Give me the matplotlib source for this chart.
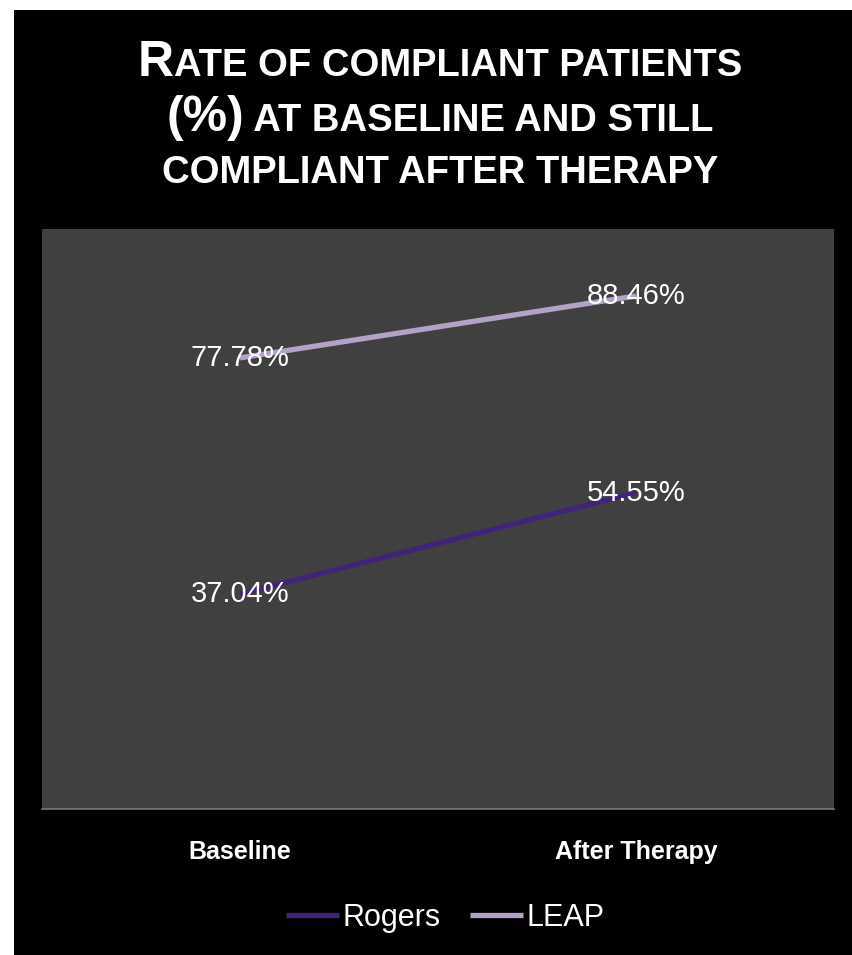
"""Compliance rate line chart, dark slide style."""

import matplotlib

matplotlib.use("Agg")
import matplotlib.pyplot as plt
from matplotlib.patches import Rectangle

categories = ["Baseline", "After Therapy"]
series_names = ["Rogers", "LEAP"]
rogers = [37.04, 54.55]
leap = [77.78, 88.46]
title_lines = [
    [("R", "big"), ("ATE OF COMPLIANT PATIENTS", "small")],
    [("(%)", "big"), (" AT BASELINE AND STILL", "small")],
    [("COMPLIANT AFTER THERAPY", "small")],
]

COLORS = {"Rogers": "#43227A", "LEAP": "#B3A2C7"}
FONT = "Liberation Sans"
W, H = 852, 955

plt.rcParams.update({"font.family": FONT})

fig = plt.figure(figsize=(W / 100, H / 100), dpi=100)
fig.patch.set_facecolor("white")
fig.add_artist(Rectangle((14 / W, 0), 1 - 14 / W, 1 - 10 / H, transform=fig.transFigure,
                         facecolor="black", edgecolor="none", zorder=0))

ax = fig.add_axes([42 / W, 1 - 809 / H, (834 - 42) / W, (809 - 229) / H])
ax.set_facecolor("#404040")
for side in ["top", "left", "right"]:
    ax.spines[side].set_visible(False)
ax.spines["bottom"].set_color("#7A7A7A")
ax.spines["bottom"].set_linewidth(1.2)

x = list(range(len(categories)))
for name, values in zip(series_names, [rogers, leap]):
    ax.plot(x, values, color=COLORS[name], lw=3.8, solid_capstyle="butt", label=name, zorder=2)
    for xi, v in zip(x, values):
        ax.text(xi, v, f"{v:.2f}%", ha="center", va="center", color="white", fontsize=21, zorder=3)

ax.set_xlim(-0.5, 1.5)
ax.set_ylim(0, 100)
ax.set_yticks([])
ax.set_xticks(x)
ax.set_xticklabels(categories, fontsize=18, fontweight="bold", color="white")
ax.tick_params(axis="x", length=0, pad=22)

fig.legend(loc="center", bbox_to_anchor=(445 / W, 1 - 918 / H), ncol=2, frameon=False,
           fontsize=22, labelcolor="white", handlelength=1.75, handletextpad=0.1,
           columnspacing=0.95)

# title drawn piece by piece to get the small-caps look
sizes = {"big": 36, "small": 27.5}
baselines = [76, 131, 183]
renderer = fig.canvas.get_renderer()
cx = 440
for segs, base in zip(title_lines, baselines):
    texts = []
    for s, kind in segs:
        t = fig.text(0, 1 - base / H, s, fontsize=sizes[kind], fontweight="bold",
                     color="white", va="baseline", ha="left")
        texts.append(t)
    widths = [t.get_window_extent(renderer).width for t in texts]
    left = cx - sum(widths) / 2
    for t, w in zip(texts, widths):
        t.set_x(left / W)
        left += w

fig.savefig("out.png", dpi=100, facecolor=fig.get_facecolor())
